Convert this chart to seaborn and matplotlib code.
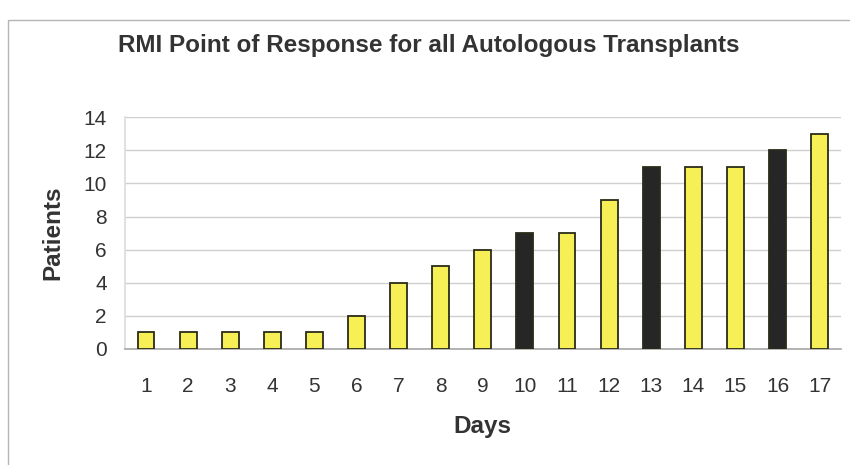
import matplotlib
matplotlib.use("Agg")
import matplotlib.pyplot as plt
from matplotlib.patches import Rectangle
import seaborn as sns
import pandas as pd

# Data
days = [str(d) for d in range(1, 18)]
patients = [1, 1, 1, 1, 1, 2, 4, 5, 6, 7, 7, 9, 11, 11, 11, 12, 13]
highlight_days = ["10", "13", "16"]
y_ticks = [0, 2, 4, 6, 8, 10, 12, 14]

YELLOW = "#f6f056"
DARK = "#262626"
colors = {d: (DARK if d in highlight_days else YELLOW) for d in days}

sns.set_theme(style="white")
plt.rcParams["font.family"] = ["Liberation Sans", "DejaVu Sans"]

df = pd.DataFrame({"Days": days, "Patients": patients})

fig = plt.figure(figsize=(8.5, 4.65), dpi=100)
ax = fig.add_axes([0.147, 0.2495, 0.842, 0.4985])

sns.barplot(data=df, x="Days", y="Patients", hue="Days", palette=colors,
            order=days, hue_order=days, legend=False, width=0.4,
            edgecolor="#2b2b1a", linewidth=1.3, saturation=1, ax=ax, zorder=3)

ax.set_xlim(-0.5, len(days) - 0.5)
ax.set_ylim(0, 14)
ax.set_yticks(y_ticks)
ax.set_yticklabels([str(t) for t in y_ticks], fontsize=15, color="#333333")
ax.tick_params(axis="x", labelsize=15, labelcolor="#333333", length=0, pad=20)
ax.tick_params(axis="y", length=0, pad=13)

# Category separators on the x-axis
ax.set_xticks([i + 0.5 for i in range(-1, len(days))], minor=True)
ax.tick_params(axis="x", which="minor", length=5, color="#aaaaaa", direction="out")

ax.yaxis.grid(True, color="#cfcfcf", linewidth=1)
ax.set_axisbelow(True)
for side in ["top", "right"]:
    ax.spines[side].set_visible(False)
ax.spines["bottom"].set_color("#aaaaaa")
ax.spines["left"].set_color("#dddddd")

ax.set_xlabel("Days", fontsize=17.5, fontweight="bold", color="#333333", labelpad=14)
ax.set_ylabel("Patients", fontsize=17.5, fontweight="bold", color="#333333", labelpad=14)

fig.text(0.505, 0.903, "RMI Point of Response for all Autologous Transplants",
         ha="center", va="center", fontsize=17.5, fontweight="bold", color="#333333")

# Chart frame
fig.add_artist(Rectangle((8 / 850, -0.01), 1.0, 1 - 20 / 465 + 0.01,
                         transform=fig.transFigure, fill=False,
                         edgecolor="#b5b5b5", linewidth=1))

fig.savefig("out.png", dpi=100)
